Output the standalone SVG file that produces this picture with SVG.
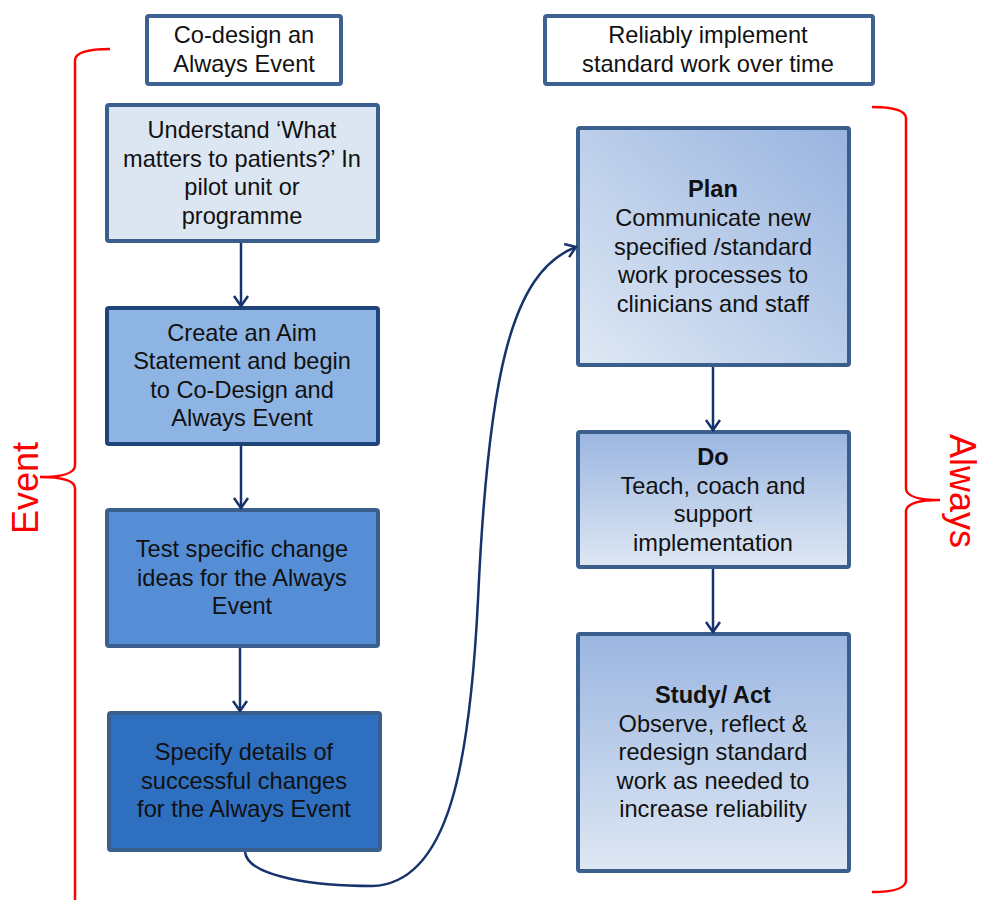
<svg xmlns="http://www.w3.org/2000/svg" width="990" height="900" viewBox="0 0 990 900">
  <defs>
    <style>
      .box { stroke: #3b5f8c; stroke-width: 4; }
      .hdr { fill: #ffffff; stroke: #3d6190; stroke-width: 4; }
      .t { font-family: "Liberation Sans", Arial, sans-serif; font-size: 23.6px; fill: #111111; text-anchor: middle; }
      .b { font-weight: bold; }
      .flow { fill: none; stroke: #17336b; stroke-width: 2.5; }
      .brace { fill: none; stroke: #ff0000; stroke-width: 2.5; }
      .side { font-family: "Liberation Sans", Arial, sans-serif; font-size: 36px; fill: #ff0000; text-anchor: middle; }
    </style>
    <marker id="vee" markerUnits="userSpaceOnUse" markerWidth="20" markerHeight="20" viewBox="-12 -10 14 20" refX="0" refY="0" orient="auto">
      <path d="M-10,-7 L0,0 L-10,7" fill="none" stroke="#17336b" stroke-width="2.5"/>
    </marker>
    <linearGradient id="gPlan" x1="0" y1="1" x2="1" y2="0">
      <stop offset="0" stop-color="#dfe8f4"/>
      <stop offset="1" stop-color="#98b4e0"/>
    </linearGradient>
    <linearGradient id="gVert" x1="0" y1="0" x2="0" y2="1">
      <stop offset="0" stop-color="#9bb6e1"/>
      <stop offset="1" stop-color="#dee7f3"/>
    </linearGradient>
  </defs>

  <!-- section brackets -->
  <g id="brackets">
    <path class="brace" d="M110,49 Q76,49 75,60 L75,466 Q74,477 40,477 Q74,477 75,488 L75,905"/>
    <path class="brace" d="M872,107 Q905,107 906,118 L906,489 Q907,500 940,500 Q907,500 906,511 L906,881 Q905,892 872,892"/>
    <text class="side" transform="translate(38,488) rotate(-90)">Event</text>
    <text class="side" transform="translate(950,491) rotate(90)">Always</text>
  </g>

  <!-- column headers -->
  <g id="header-codesign">
    <rect class="hdr" x="147" y="16" width="194" height="68" rx="2"/>
    <text class="t" x="244" y="43">Co-design an</text>
    <text class="t" x="244" y="71.5">Always Event</text>
  </g>
  <g id="header-reliably">
    <rect class="hdr" x="545" y="16" width="328" height="68" rx="2"/>
    <text class="t" x="708" y="43">Reliably implement</text>
    <text class="t" x="708" y="71.5">standard work over time</text>
  </g>

  <!-- left column: design steps -->
  <g id="understand">
    <rect class="box" x="107" y="105" width="271" height="136" rx="2" fill="#dce6f2"/>
    <text class="t" x="242" y="138">Understand ‘What</text>
    <text class="t" x="242" y="166.5">matters to patients?’ In</text>
    <text class="t" x="242" y="195">pilot unit or</text>
    <text class="t" x="242" y="223.5">programme</text>
  </g>
  <g id="aim">
    <rect x="107" y="308" width="271" height="136" rx="2" fill="#8eb4e3" stroke="#1f4478" stroke-width="4"/>
    <text class="t" x="242" y="340.5">Create an Aim</text>
    <text class="t" x="242" y="369">Statement and begin</text>
    <text class="t" x="242" y="397.5">to Co-Design and</text>
    <text class="t" x="242" y="426">Always Event</text>
  </g>
  <g id="test">
    <rect class="box" x="107" y="510" width="271" height="136" rx="2" fill="#558ed5"/>
    <text class="t" x="242" y="557">Test specific change</text>
    <text class="t" x="242" y="585.5">ideas for the Always</text>
    <text class="t" x="242" y="614">Event</text>
  </g>
  <g id="specify">
    <rect class="box" x="109" y="713" width="271" height="137" rx="2" fill="#2f6fc0"/>
    <text class="t" x="244" y="760">Specify details of</text>
    <text class="t" x="244" y="788.5">successful changes</text>
    <text class="t" x="244" y="817">for the Always Event</text>
  </g>

  <!-- right column: PDSA cycle -->
  <g id="plan">
    <rect class="box" x="578" y="128" width="271" height="237" rx="2" fill="url(#gPlan)"/>
    <text class="t b" x="713" y="197">Plan</text>
    <text class="t" x="713" y="226">Communicate new</text>
    <text class="t" x="713" y="254.5">specified /standard</text>
    <text class="t" x="713" y="283">work processes to</text>
    <text class="t" x="713" y="311.5">clinicians and staff</text>
  </g>
  <g id="do">
    <rect class="box" x="578" y="432" width="271" height="135" rx="2" fill="url(#gVert)"/>
    <text class="t b" x="713" y="465">Do</text>
    <text class="t" x="713" y="493.5">Teach, coach and</text>
    <text class="t" x="713" y="522">support</text>
    <text class="t" x="713" y="550.5">implementation</text>
  </g>
  <g id="study-act">
    <rect class="box" x="578" y="634" width="271" height="237" rx="2" fill="url(#gVert)"/>
    <text class="t b" x="713" y="703">Study/ Act</text>
    <text class="t" x="713" y="731.5">Observe, reflect &amp;</text>
    <text class="t" x="713" y="760">redesign standard</text>
    <text class="t" x="713" y="788.5">work as needed to</text>
    <text class="t" x="713" y="817">increase reliability</text>
  </g>

  <!-- connectors -->
  <g id="connectors">
    <path class="flow" marker-end="url(#vee)" d="M241,243 L241,306"/>
    <path class="flow" marker-end="url(#vee)" d="M241,446 L241,508"/>
    <path class="flow" marker-end="url(#vee)" d="M240,648 L240,711"/>
    <path class="flow" marker-end="url(#vee)" d="M713,367 L713,430"/>
    <path class="flow" marker-end="url(#vee)" d="M713,569 L713,632"/>
    <path class="flow" marker-end="url(#vee)" d="M245,852 C248,878 320,886 372,886 C450,884 470,760 478,600 C488,380 510,272 576,247"/>
  </g>
</svg>
